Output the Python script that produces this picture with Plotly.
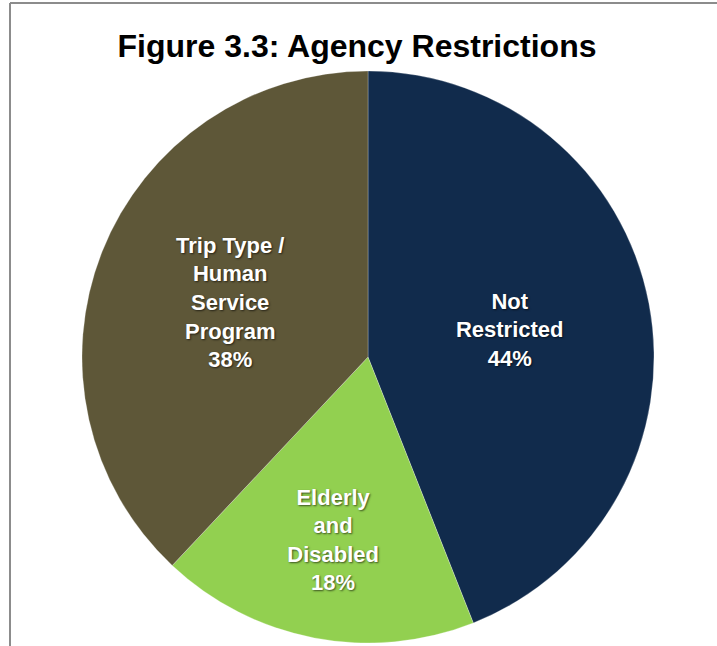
import plotly.graph_objects as go

categories = ["Not<br>Restricted", "Elderly<br>and<br>Disabled", "Trip Type /<br>Human<br>Service<br>Program"]
values = [44, 18, 38]
colors = ["#112B4C", "#92D050", "#5E5738"]

W, H = 717, 646
cx, cy, r = 368, 357, 286

fig = go.Figure(go.Pie(
    labels=categories,
    values=values,
    sort=False,
    direction="clockwise",
    rotation=0,
    marker=dict(colors=colors, line=dict(color="rgba(255,255,255,0.25)", width=1)),
    texttemplate="%{label}<br>%{percent:.0%}",
    textposition="inside",
    insidetextorientation="horizontal",
    textfont=dict(family="Liberation Sans", size=22, color="white", weight="bold",
                  shadow="1px 1px 2px rgba(0,0,0,0.6)"),
    showlegend=False,
    hoverinfo="label+percent",
    domain=dict(x=[(cx - r) / W, (cx + r) / W], y=[(H - cy - r) / H, (H - cy + r) / H]),
))

fig.update_layout(
    width=W, height=H,
    margin=dict(l=0, r=0, t=0, b=0),
    paper_bgcolor="white",
    plot_bgcolor="white",
    title=dict(text="<b>Figure 3.3: Agency Restrictions</b>", x=357 / W, xanchor="center",
               y=1 - 46 / H, yanchor="middle",
               font=dict(family="Liberation Sans", size=32, color="black")),
    shapes=[
        dict(type="line", xref="paper", yref="paper", x0=10 / W, x1=1, y0=1 - 3 / H, y1=1 - 3 / H,
             line=dict(color="#8C8C8C", width=2)),
        dict(type="line", xref="paper", yref="paper", x0=10 / W, x1=10 / W, y0=0, y1=1 - 3 / H,
             line=dict(color="#8C8C8C", width=2)),
    ],
)

fig.write_html("out.html")
